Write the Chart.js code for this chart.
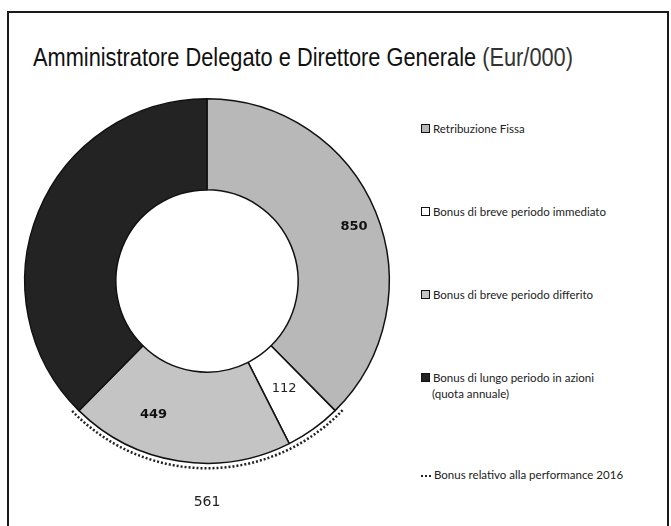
<!DOCTYPE html>
<html><head><meta charset="utf-8">
<script src="https://cdn.jsdelivr.net/npm/chart.js@4.4.0/dist/chart.umd.min.js"></script>
<style>
html,body{margin:0;padding:0;background:#fff;width:671px;height:526px;overflow:hidden;position:relative;}
#frame{position:absolute;left:7px;top:11px;width:662px;height:560px;border:2px solid #1a1a1a;box-sizing:border-box;}
#title{position:absolute;left:33px;top:43px;font-family:"Liberation Sans","Arimo",sans-serif;font-size:25px;color:#111;white-space:nowrap;transform-origin:0 0;}
#title .unit{color:#333;font-weight:normal;}
#wrap{position:absolute;left:0px;top:81px;width:414px;height:440px;}
.li{position:absolute;left:421px;font-family:Lato,"Open Sans",sans-serif;font-size:11.5px;color:#222;line-height:16px;white-space:nowrap;}
.sw{display:inline-block;width:7px;height:7px;border:1px solid #111;margin-right:3px;vertical-align:0px;}
.dots{display:inline-block;width:10px;border-bottom:2px dotted #222;margin-right:3px;vertical-align:2px;}
.l2{padding-left:11px;}
</style></head><body>
<div id="frame"></div>
<div id="title">Amministratore Delegato e Direttore Generale <span class="unit">(Eur/000)</span></div>
<div id="wrap"><canvas id="c"></canvas></div>
<div id="legend"></div>
<script>
// ---- data ----
const categories = ["Retribuzione Fissa", "Bonus di breve periodo immediato", "Bonus di breve periodo differito", "Bonus di lungo periodo in azioni|(quota annuale)"];
const values = [850, 112, 449, 850];
const valueLabels = ["850", "112", "449", ""];
const groupLabel = "Bonus relativo alla performance 2016";
const groupIndices = [1, 2];

// ---- styles ----
const colors = ["#b8b8b8", "#ffffff", "#c4c4c4", "#232323"];
const labelStyle = [
  {frac:0.515, rad:0.72, font:"bold 13px 'DejaVu Sans'", color:"#111"},
  {frac:0.5, rad:0.45, font:"13px 'DejaVu Sans'", color:"#222"},
  {frac:0.68, rad:0.58, font:"bold 13px 'DejaVu Sans'", color:"#111"},
  null
];
const legendTops = [121, 204, 287, 370];
const groupLegendTop = 467;

// title width fit
const t = document.getElementById('title');
const tw = t.getBoundingClientRect().width;
t.style.transform = 'scaleX(' + (540 / tw) + ')';

// legend (HTML)
const lg = document.getElementById('legend');
categories.forEach((c, i) => {
  const d = document.createElement('div');
  d.className = 'li';
  d.style.top = legendTops[i] + 'px';
  const parts = c.split('|');
  d.innerHTML = '<span class="sw" style="background:' + colors[i] + '"></span>' + parts[0] +
    (parts[1] ? '<br><span class="l2">' + parts[1] + '</span>' : '');
  lg.appendChild(d);
});
const g = document.createElement('div');
g.className = 'li';
g.style.top = groupLegendTop + 'px';
g.innerHTML = '<span class="dots"></span>' + groupLabel;
lg.appendChild(g);

const labelsPlugin = {
  id: 'labels',
  afterDatasetsDraw(chart) {
    const ctx = chart.ctx;
    const meta = chart.getDatasetMeta(0);
    ctx.save();
    ctx.textAlign = 'center';
    ctx.textBaseline = 'middle';
    meta.data.forEach((arc, i) => {
      const st = labelStyle[i];
      if (!st || !valueLabels[i]) return;
      const p = arc.getProps(['x','y','startAngle','endAngle','innerRadius','outerRadius'], true);
      const a = p.startAngle + st.frac * (p.endAngle - p.startAngle);
      const r = p.innerRadius + st.rad * (p.outerRadius - p.innerRadius);
      ctx.font = st.font;
      ctx.fillStyle = st.color;
      ctx.fillText(valueLabels[i], p.x + r * Math.cos(a), p.y + r * Math.sin(a));
    });
    // dotted group arc
    const a1 = meta.data[groupIndices[0]].getProps(['x','y','startAngle','outerRadius'], true);
    const a2 = meta.data[groupIndices[groupIndices.length-1]].getProps(['endAngle'], true);
    const R = a1.outerRadius + 5;
    ctx.beginPath();
    ctx.setLineDash([2, 2]);
    ctx.lineWidth = 2.5;
    ctx.strokeStyle = '#222';
    ctx.arc(a1.x, a1.y, R, a1.startAngle - 0.03, a2.endAngle + 0.03);
    ctx.stroke();
    ctx.setLineDash([]);
    const sum = groupIndices.reduce((s, k) => s + values[k], 0);
    const mid = (a1.startAngle + a2.endAngle) / 2;
    ctx.font = "14px 'DejaVu Sans'";
    ctx.fillStyle = '#222';
    ctx.fillText(String(sum), a1.x + (a1.outerRadius + 39) * Math.cos(mid), a1.y + (a1.outerRadius + 39) * Math.sin(mid));
    ctx.restore();
  }
};

new Chart(document.getElementById('c'), {
  type: 'doughnut',
  data: {
    labels: categories.map(c => c.replace('|', ' ')),
    datasets: [{
      data: values,
      backgroundColor: colors,
      borderColor: '#111',
      borderWidth: 1.5,
      hoverOffset: 0
    }]
  },
  options: {
    responsive: true,
    maintainAspectRatio: false,
    animation: false,
    cutout: '50%',
    layout: {padding: {left: 24, right: 24, top: 17, bottom: 57}},
    plugins: {legend: {display: false}, tooltip: {enabled: false}}
  },
  plugins: [labelsPlugin]
});
</script>
</body></html>
